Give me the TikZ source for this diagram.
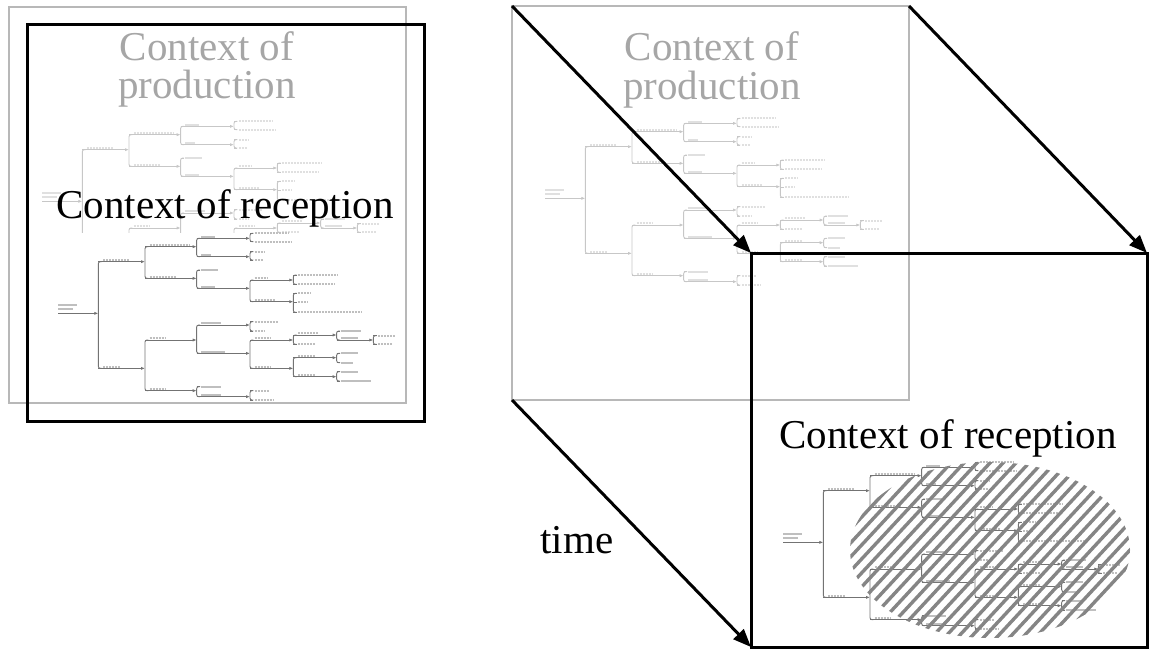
\documentclass[tikz,border=0pt]{standalone}
\usepackage{fontspec}
\setmainfont{Liberation Serif}
\usetikzlibrary{arrows.meta}

\newcommand\tvb[3]{\draw[tln,rounded corners=1pt] (#1+10,#2) -- (#1,#2) -- (#1,#3) -- (#1+10,#3);}
\newcommand\tbr[4]{\draw[tlbl] (#1+14,#2-5) -- ++(#4,0);
  \draw[tln,-{Latex[length=2pt,width=1.6pt]}] (#1,#2) -- (#3,#2);}
\newcommand\tlf[3]{\draw[tln] (#1,#2) -- (#1+10,#2); \draw[tlbl] (#1+14,#2) -- ++(#3,0);}
\newcommand\treebody{%
  \draw[tlbl] (25,240) -- (80,240);
  \draw[tlbl] (25,252) -- (70,252);
  \draw[tln,-{Latex[length=2pt,width=1.6pt]}] (25,265) -- (145,265);
  \tvb{145}{110}{430}
  \tbr{145}{110}{285}{80}
  \tvb{285}{65}{160}
  \tbr{285}{65}{440}{120}
  \tvb{440}{40}{95}
  \tbr{440}{40}{600}{40}
  \tvb{600}{25}{50}\tlf{600}{25}{100}\tlf{600}{50}{110}
  \tbr{440}{95}{600}{30}
  \tvb{600}{80}{105}\tlf{600}{80}{30}\tlf{600}{105}{25}
  \tbr{285}{160}{440}{80}
  \tvb{440}{135}{190}
  \tlf{440}{135}{50}
  \tbr{440}{190}{600}{40}
  \tvb{600}{165}{230}
  \tbr{600}{165}{730}{40}
  \tvb{730}{150}{178}\tlf{730}{150}{120}\tlf{730}{178}{110}
  \tbr{600}{230}{730}{60}
  \tvb{730}{205}{262}\tlf{730}{205}{40}\tlf{730}{232}{30}\tlf{730}{262}{190}
  \tbr{145}{430}{285}{50}
  \tvb{285}{345}{497}
  \tbr{285}{345}{440}{50}
  \tvb{440}{300}{385}
  \tbr{440}{300}{600}{60}
  \tvb{600}{290}{318}\tlf{600}{290}{70}\tlf{600}{318}{30}
  \tbr{440}{385}{600}{70}
  \tvb{600}{345}{430}
  \tbr{600}{345}{730}{50}
  \tvb{730}{330}{358}
  \tbr{730}{330}{860}{60}
  \tvb{860}{318}{345}
  \tlf{860}{318}{60}
  \tbr{860}{345}{970}{50}
  \tvb{970}{332}{358}\tlf{970}{332}{50}\tlf{970}{358}{45}
  \tlf{730}{358}{50}
  \tbr{600}{430}{730}{50}
  \tvb{730}{398}{455}
  \tbr{730}{398}{860}{50}
  \tvb{860}{385}{413}\tlf{860}{385}{50}\tlf{860}{413}{35}
  \tbr{730}{455}{860}{50}
  \tvb{860}{440}{468}\tlf{860}{440}{50}\tlf{860}{468}{90}
  \tbr{285}{497}{440}{50}
  \tvb{440}{485}{515}
  \tlf{440}{485}{60}
  \tbr{440}{515}{600}{60}
  \tvb{600}{497}{525}\tlf{600}{497}{45}\tlf{600}{525}{55}
}
\newcommand\drawtree[3]{\begin{scope}[shift={(#2,#3)},scale=1/3,#1]\treebody\end{scope}}

\begin{document}
\begin{tikzpicture}[x=0.5pt,y=-0.5pt,
  bigtext/.style={font=\fontsize{20.5}{18}\selectfont,inner sep=0pt,anchor=base},
  gtext/.style={bigtext,text=black!35},
  btext/.style={bigtext,text=black},
  grect/.style={draw=black!28,line width=1pt},
  brect/.style={draw=black,line width=1.5pt},
  timearrow/.style={draw=black,line width=1.5pt,-{Triangle[length=9pt,width=7pt]}},
  darktree/.style={tln/.style={draw=black!55,line width=0.45pt},
    tlbl/.style={draw=black!25,line width=1.1pt,dash pattern=on 1.1pt off 0.4pt}},
  lighttree/.style={tln/.style={draw=black!22,line width=0.45pt},
    tlbl/.style={draw=black!12,line width=1.1pt,dash pattern=on 1.1pt off 0.4pt}},
  hatch/.style={draw=black!48,line width=1.7pt}]
\useasboundingbox (0,0) rectangle (1155,650);

% ---------- left panel ----------
\draw[grect] (9,7) rectangle (406,403);
\begin{scope}
  \clip (0,0) rectangle (1155,232);
  \drawtree{lighttree}{34}{113}
\end{scope}
\node[gtext] (lp1) at (207,60) {Context of};
\node[gtext] (lp2) at (207,98) {production};
\drawtree{darktree}{50}{225}
\draw[brect] (27,24) rectangle (424,421);
\node[btext] (lrec) at (225,218) {Context of reception};

% ---------- right panel ----------
\coordinate (gTL) at (512,6);
\coordinate (gTR) at (909,6);
\coordinate (gBL) at (512,400);
\coordinate (gBR) at (909,400);
\coordinate (bTL) at (751,253);
\coordinate (bTR) at (1147,253);
\coordinate (bBL) at (751,647);
\coordinate (bBR) at (1147,647);

\draw[grect] (gTL) rectangle (gBR);
\drawtree{lighttree}{537}{110}
\node[gtext] (rp1) at (712,60) {Context of};
\node[gtext] (rp2) at (712,99) {production};

\drawtree{darktree}{775}{454}
\begin{scope}
  \clip (990,550) ellipse [x radius=140, y radius=88];
  \foreach \i in {-20,...,33} \draw[hatch] ({750+\i*13},665) -- ++(200,-215);
\end{scope}
\draw[brect] (bTL) rectangle (bBR);
\node[btext] (rrec) at (948,448) {Context of reception};

\draw[timearrow] (gTL) -- (bTL);
\draw[timearrow] (gTR) -- (bTR);
\draw[timearrow] (gBL) -- (bBL);
\node[btext] (time) at (577,553) {time};
\end{tikzpicture}
\end{document}
